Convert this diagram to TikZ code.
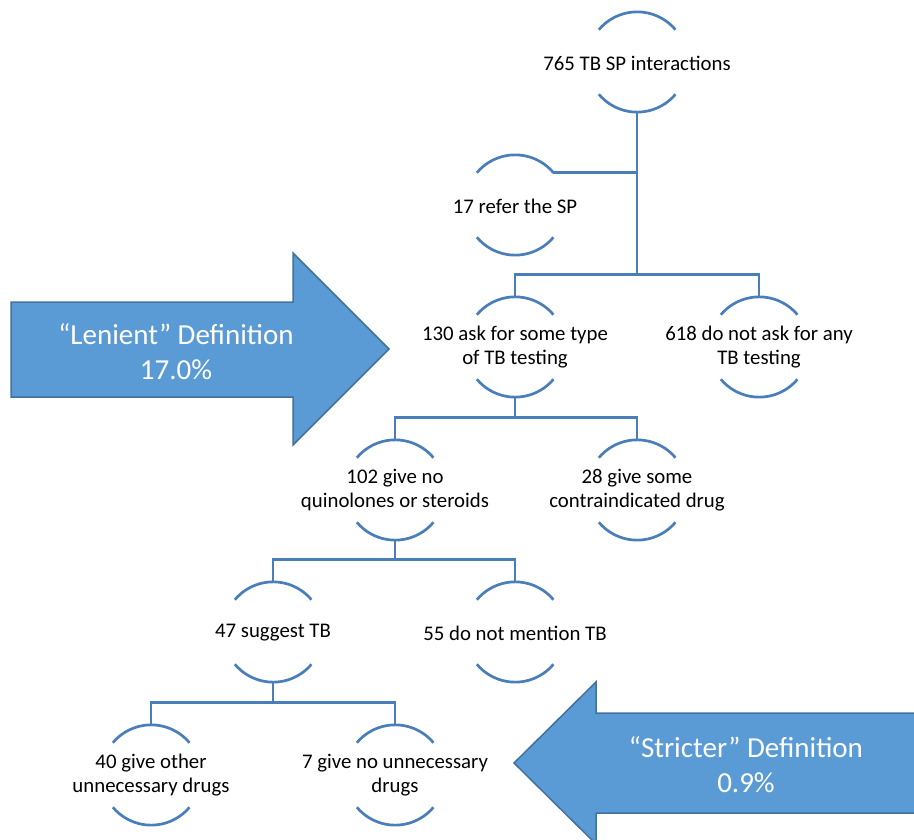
\documentclass[tikz,border=0pt]{standalone}
\usepackage{fontspec}
\setmainfont{Carlito}
\usetikzlibrary{calc}
\definecolor{treeblue}{RGB}{74,126,187}
\definecolor{arrowfill}{RGB}{91,155,213}
\definecolor{arrowedge}{RGB}{65,113,156}
\begin{document}
\begin{tikzpicture}[x=1pt,y=-1pt,
  ring/.style={circle,minimum size=100pt,inner sep=0pt},
  lbl/.style={align=center,font=\fontsize{20.8}{24}\selectfont,inner sep=0pt},
  conn/.style={draw=treeblue,line width=2.7pt},
  bigarrow/.style={fill=arrowfill,draw=arrowedge,line width=1.5pt,line join=miter},
  arrowtxt/.style={text=white,align=center,font=\fontsize{29}{35}\selectfont,inner sep=0pt}]
\useasboundingbox (0,0) rectangle (914,840);
\clip (0,0) rectangle (914,840);

% arrows
\path[bigarrow] (11,302) -- (293,302) -- (293,253) -- (389,349) -- (293,445) -- (293,397) -- (11,397) -- cycle;
\node[arrowtxt] (lenient) at (176,352) {“Lenient” Definition\\17.0\%};
\path[bigarrow] (940,713) -- (596,713) -- (596,682) -- (514,763) -- (596,844) -- (596,813) -- (940,813) -- cycle;
\node[arrowtxt] (stricter) at (746,765) {“Stricter” Definition\\0.9\%};

% rings
\node[ring] (t765) at (637,62) {};
\node[ring] (t17) at (515,205) {};
\node[ring] (t130) at (515,347) {};
\node[ring] (t618) at (759,347) {};
\node[ring] (t102) at (395,490) {};
\node[ring] (t28) at (637,490) {};
\node[ring] (t47) at (273,632) {};
\node[ring] (t55) at (515,632) {};
\node[ring] (t40) at (151,775) {};
\node[ring] (t7) at (395,775) {};

\foreach \n in {t765,t17,t130,t618,t102,t28,t47,t55,t40,t7}{
  \draw[conn] (\n.40) arc (40:140:50pt);
  \draw[conn] (\n.-40) arc (-40:-140:50pt);
}

% labels
\node[lbl] (l765) at ([yshift=-1pt]t765) {765 TB SP interactions};
\node[lbl] (l17) at ([yshift=-1pt]t17) {17 refer the SP};
\node[lbl] (l130) at (t130) {130 ask for some type\\of TB testing};
\node[lbl] (l618) at (t618) {618 do not ask for any\\TB testing};
\node[lbl] (l102) at (t102) {102 give no\\quinolones or steroids};
\node[lbl] (l28) at (t28) {28 give some\\contraindicated drug};
\node[lbl] (l47) at ([yshift=-1pt]t47) {47 suggest TB};
\node[lbl] (l55) at ([yshift=-1pt]t55) {55 do not mention TB};
\node[lbl] (l40) at (t40) {40 give other\\unnecessary drugs};
\node[lbl] (l7) at (t7) {7 give no unnecessary\\drugs};

% connectors
\draw[conn] (t765.south) -- ($(t765.south |- t130.north)+(0,-22)$);
\draw[conn] (t17.40) -- (t17.40 -| t765.south);
\draw[conn] (t130.north) -- ++(0,-22) -| (t618.north);

\draw[conn] (t130.south) -- ($(t130.south |- t102.north)+(0,-22)$);
\draw[conn] (t102.north) -- ++(0,-22) -| (t28.north);

\draw[conn] (t102.south) -- ($(t102.south |- t47.north)+(0,-22)$);
\draw[conn] (t47.north) -- ++(0,-22) -| (t55.north);

\draw[conn] (t47.south) -- ($(t47.south |- t40.north)+(0,-22)$);
\draw[conn] (t40.north) -- ++(0,-22) -| (t7.north);
\end{tikzpicture}
\end{document}
